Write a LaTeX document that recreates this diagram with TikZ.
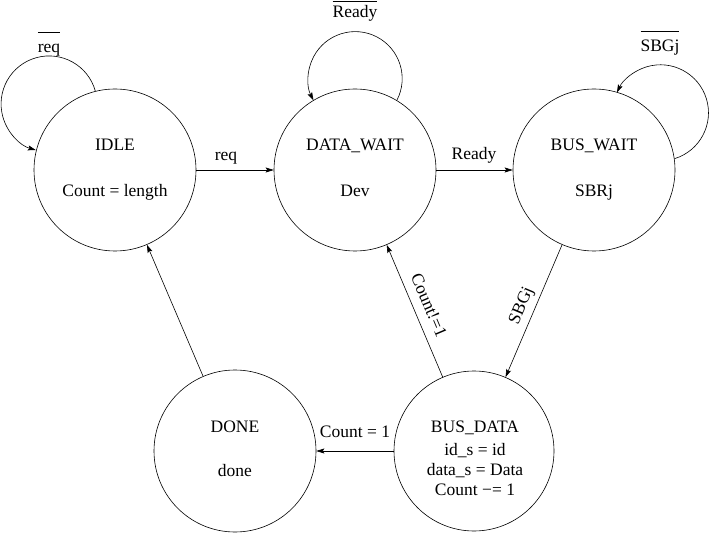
\documentclass[tikz,border=0pt]{standalone}
\usepackage{fontspec}
\setmainfont{Liberation Serif}
\usetikzlibrary{arrows.meta}
\newcommand\barred[2]{\vbox{\hrule height 1.1pt\hbox{\vrule height #2 depth 0pt width 0pt #1}}}
\begin{document}
\begin{tikzpicture}[x=1pt,y=1pt,
  state/.style={draw, circle, line width=0.6pt, minimum size=162pt, inner sep=0pt},
  bigstate/.style={state, minimum size=160pt},
  lbl/.style={font=\fontsize{17.5}{21}\selectfont, inner sep=0pt},
  arr/.style={line width=0.6pt, -{Stealth[length=8pt,width=5pt,inset=1.5pt]}}]
\useasboundingbox (0,0) rectangle (709,533);
% states
\node[state] (idle) at (115,363) {};
\node[state] (dw) at (355,363) {};
\node[state] (bw) at (594,363) {};
\node[state] (done) at (235,82) {};
\node[bigstate] (bd) at (474,82) {};
% state texts
\node[lbl, anchor=base] (idleA) at (115,382) {IDLE};
\node[lbl, anchor=base] (idleB) at (115,336) {Count = length};
\node[lbl, anchor=base] (dwA) at (355,382) {DATA\_WAIT};
\node[lbl, anchor=base] (dwB) at (355,336) {Dev};
\node[lbl, anchor=base] (bwA) at (594,382) {BUS\_WAIT};
\node[lbl, anchor=base] (bwB) at (594,336) {SBRj};
\node[lbl, anchor=base] (doneA) at (235,101) {DONE};
\node[lbl, anchor=base] (doneB) at (235,57) {done};
\node[lbl, anchor=base] (bdA) at (475,101) {BUS\_DATA};
\node[lbl, anchor=base] (bdB) at (475,78) {id\_s = id};
\node[lbl, anchor=base] (bdC) at (475,58) {data\_s = Data};
\node[lbl, anchor=base] (bdD) at (475,38) {Count −= 1};
% self loops
\draw[arr] (idle.104) arc[start angle=15.5, end angle=254, radius=48pt];
\draw[arr] (dw.59) arc[start angle=-27.5, end angle=207.5, radius=47pt];
\draw[arr] (bw.8) arc[start angle=-73, end angle=155, radius=48pt];
\node[lbl, anchor=base] (lidle) at (49,480) {\barred{req}{20pt}};
\node[lbl, anchor=base] (ldw) at (355,515) {\barred{Ready}{16pt}};
\node[lbl, anchor=base] (lbw) at (660,481) {\barred{SBGj}{20pt}};
% transitions
\draw[arr] (idle) -- (dw);
\draw[arr] (dw) -- (bw);
\draw[arr] (bw) -- (bd);
\draw[arr] (bd) -- (dw);
\draw[arr] (bd) -- (done);
\draw[arr] (done) -- (idle);
% transition labels
\node[lbl, anchor=base] (lreq) at (226,372) {req};
\node[lbl, anchor=base] (lready) at (474,373) {Ready};
\node[lbl, anchor=base] (lone) at (355,96) {Count = 1};
\node[lbl, rotate=-67] (lne) at (429,228) {Count!=1};
\node[lbl, rotate=67] (lsbgj) at (522,227) {SBGj};
\end{tikzpicture}
\end{document}
